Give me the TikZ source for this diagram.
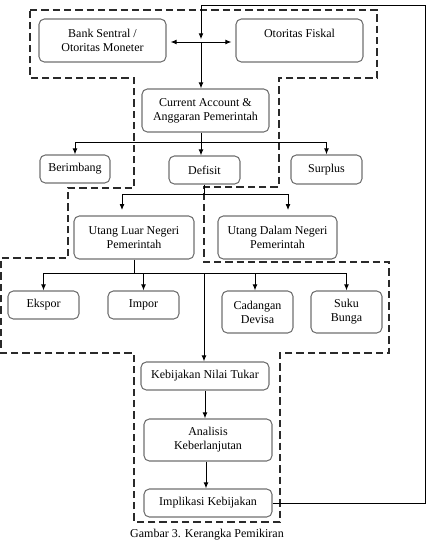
\documentclass[tikz,border=0pt]{standalone}
\usepackage{fontspec}
\setmainfont{Liberation Serif}
\usetikzlibrary{arrows.meta}
\definecolor{boxgray}{HTML}{707070}
\definecolor{dashgray}{HTML}{2A2A2A}
\tikzset{
  bx/.style={draw=boxgray, line width=0.8pt, rounded corners=4pt, align=center, inner sep=0pt,
    font=\fontsize{9}{10.5}\selectfont},
  conn/.style={line width=0.75pt, black},
  arr/.style={conn, -{Latex[length=4.5pt,width=3.6pt]}},
  dashbound/.style={dashgray, line width=1pt, dash pattern=on 5.5pt off 3pt}
}
\begin{document}
\begin{tikzpicture}[x=0.75pt,y=-0.75pt]
\useasboundingbox (0,0) rectangle (426,547);
% dashed boundary
\draw[dashbound] (30,10) -- (377,10) -- (377,78) -- (279,78) -- (279,187) -- (204,187) -- (204,262)
  -- (389,262) -- (389,353) -- (280,353) -- (280,522) -- (134,522) -- (134,353) -- (1,353)
  -- (1,258) -- (68,258) -- (68,188) -- (134,188) -- (134,78) -- (30,78) -- cycle;
% boxes
\node[bx, minimum width=95.25pt, minimum height=32.25pt] (bank) at (102.5,40.5) {Bank Sentral /\\Otoritas Moneter};
\node[bx, minimum width=95.25pt, minimum height=32.25pt] (fiskal) at (299.5,40.5) {Otoritas Fiskal\\\mbox{}};
\node[bx, minimum width=95.25pt, minimum height=32.25pt] (ca) at (205.5,110.5) {Current Account \&\\Anggaran Pemerintah};
\node[bx, minimum width=52.5pt, minimum height=21pt] (berimbang) at (75,169) {Berimbang};
\node[bx, minimum width=53.25pt, minimum height=21pt] (defisit) at (204.5,170) {Defisit};
\node[bx, minimum width=53.25pt, minimum height=21.75pt] (surplus) at (326.5,169.5) {Surplus};
\node[bx, minimum width=90pt, minimum height=32.25pt] (uln) at (134,237.5) {Utang Luar Negeri\\Pemerintah};
\node[bx, minimum width=89.25pt, minimum height=32.25pt] (udn) at (277.5,237.5) {Utang Dalam Negeri\\Pemerintah};
\node[bx, minimum width=53.25pt, minimum height=21pt] (ekspor) at (43.5,305) {Ekspor};
\node[bx, minimum width=53.25pt, minimum height=21pt] (impor) at (143.5,305) {Impor};
\node[bx, minimum width=53.25pt, minimum height=31.5pt] (cadangan) at (257.5,312) {Cadangan\\Devisa};
\node[bx, minimum width=53.25pt, minimum height=31.5pt] (suku) at (346.5,312) {Suku\\Bunga};
\node[bx, minimum width=96pt, minimum height=21pt] (kebijakan) at (205,376) {Kebijakan Nilai Tukar};
\node[bx, minimum width=96pt, minimum height=31.5pt] (analisis) at (208,440) {Analisis\\Keberlanjutan};
\node[bx, minimum width=96pt, minimum height=21pt] (implikasi) at (208,503) {Implikasi Kebijakan};
\node[font=\fontsize{9}{10.5}\selectfont] (caption) at (207,535) {Gambar 3. Kerangka Pemikiran};
% coordinates
\coordinate (cross) at (201,42);
\coordinate (fbR) at (425,5);
\coordinate (fbT) at (201,5);
\coordinate (b1) at (201,142);
\coordinate (b2) at (204,194);
\coordinate (b3) at (134,273);
% connectors
\draw[{Latex[length=4.5pt,width=3.6pt]}-{Latex[length=4.5pt,width=3.6pt]}, conn, shorten <=3pt, shorten >=3pt] (bank.east |- cross) -- (fiskal.west |- cross);
\draw[arr] (implikasi.east) -| (fbR) -- (fbT) -- ([yshift=2pt]cross);
\draw[arr] (cross) -- (cross |- ca.north);
\draw[conn] (ca.south -| b1) -- (b1);
\draw[conn] (berimbang.north |- b1) -- (surplus.north |- b1);
\draw[arr] (berimbang.north |- b1) -- (berimbang.north);
\draw[arr] (b1) -- (b1 |- defisit.north);
\draw[arr] (surplus.north |- b1) -- (surplus.north);
\draw[conn] (defisit.south -| b2) -- (b2);
\draw[conn] (122,194) -- (288,194);
\draw[arr, shorten >=4pt] (122,194) -- (122,0 |- uln.north);
\draw[arr, shorten >=4pt] (288,194) -- (288,0 |- udn.north);
\draw[conn] (uln.south -| b3) -- (b3);
\draw[conn] (ekspor.north |- b3) -- (suku.north |- b3);
\draw[arr] (ekspor.north |- b3) -- (ekspor.north);
\draw[arr] (impor.north |- b3) -- (impor.north);
\draw[arr] (255,273) -- (255,0 |- cadangan.north);
\draw[arr] (suku.north |- b3) -- (suku.north);
\draw[arr] (204,273) -- (204,0 |- kebijakan.north);
\draw[arr] (kebijakan.south) -- (kebijakan.south |- analisis.north);
\draw[arr] (206,0 |- analisis.south) -- (206,0 |- implikasi.north);
\end{tikzpicture}
\end{document}
